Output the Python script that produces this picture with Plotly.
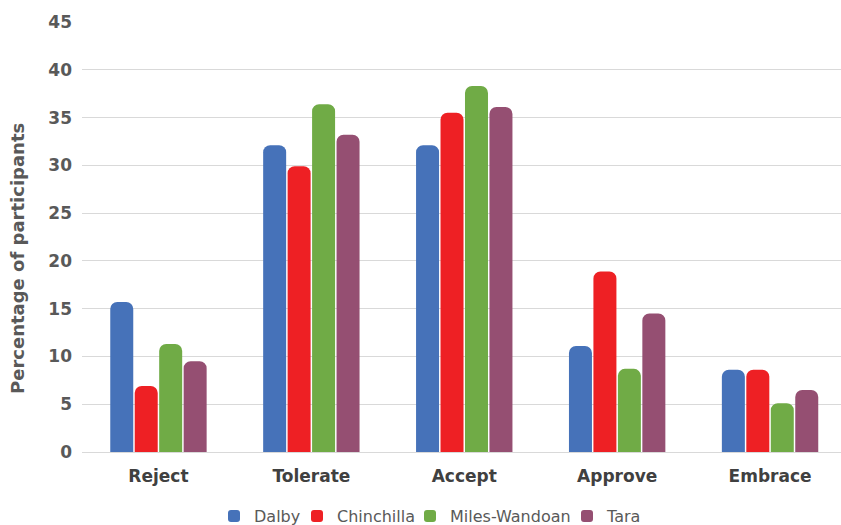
import plotly.graph_objects as go

categories = ["Reject", "Tolerate", "Accept", "Approve", "Embrace"]
dalby = [15.7, 32.1, 32.1, 11.1, 8.6]
chinchilla = [6.9, 29.9, 35.5, 18.9, 8.6]
miles_wandoan = [11.3, 36.4, 38.3, 8.7, 5.1]
tara = [9.5, 33.2, 36.1, 14.5, 6.5]
y_ticks = [0, 5, 10, 15, 20, 25, 30, 35, 40, 45]

series = [
    ("Dalby", dalby, "#4672B9", 38),
    ("Chinchilla", chinchilla, "#EE2024", 68),
    ("Miles-Wandoan", miles_wandoan, "#70AB46", 112),
    ("Tara", tara, "#954F72", 50),
]

fig = go.Figure()
for name, vals, color, lw in series:
    fig.add_trace(go.Bar(
        name=name, x=categories, y=vals, legendwidth=lw,
        marker=dict(color=color, cornerradius=7, line=dict(width=0)),
    ))

fig.add_annotation(
    text="Percentage of participants", textangle=-90,
    xref="paper", yref="paper", x=-0.085, y=0.45,
    xanchor="center", yanchor="middle", showarrow=False,
    font=dict(size=18, color="#595959", weight="bold"),
)

fig.update_layout(
    width=841, height=525,
    margin=dict(l=82, r=0, t=22, b=73),
    paper_bgcolor="white", plot_bgcolor="white",
    barmode="group", bargap=0.36, bargroupgap=0.06,
    font=dict(family="DejaVu Sans", color="#595959"),
    legend=dict(
        orientation="h", x=214 / 841, xanchor="left", xref="container",
        y=9 / 525, yanchor="middle", yref="container",
        font=dict(size=16, color="#595959"), itemwidth=30,
        traceorder="normal",
    ),
    xaxis=dict(
        range=[-0.5, 4.464],
        tickfont=dict(size=17, color="#404040", weight="bold"),
        showgrid=False, zeroline=False, showline=False,
        ticks="", ticklabelstandoff=12,
    ),
    yaxis=dict(
        range=[0, 45], tickvals=y_ticks,
        tickfont=dict(size=17, color="#595959", weight="bold"),
        gridcolor="#D9D9D9", gridwidth=1,
        zeroline=True, zerolinecolor="#D9D9D9", zerolinewidth=1,
        ticks="", ticklabelstandoff=9,
    ),
)

fig.write_html("out.html")
